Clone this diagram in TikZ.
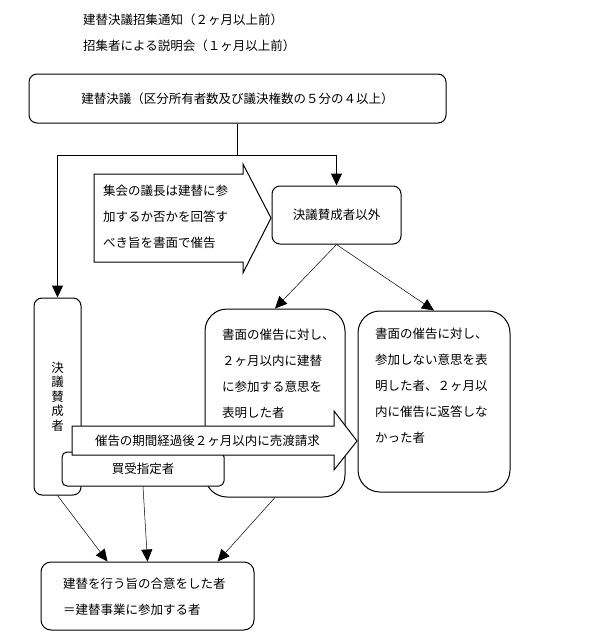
\documentclass[tikz,border=0pt]{standalone}
\usepackage{fontspec}
\newfontfamily\jp{Noto Sans CJK JP}
\usetikzlibrary{arrows.meta}

\begin{document}
\begin{tikzpicture}[x=1pt,y=-1pt,
  every node/.style={font=\jp\fontsize{12.5}{26}\selectfont},
  box/.style={draw,line width=1pt,fill=white,rounded corners=8pt,inner sep=0pt},
  txt/.style={anchor=west,align=left,inner sep=0pt},
  link/.style={line width=1pt,-{Triangle[length=12pt,width=11pt]}},
  thinlink/.style={line width=0.5pt,-{Triangle[length=12pt,width=11pt]}},
  blockarrow/.style={draw,line width=1pt,fill=white}]
\useasboundingbox(0,0) rectangle (593,633);
\node[txt] (notice) at (83,20) {建替決議招集通知（２ヶ月以上前）};
\node[txt] (briefing) at (83,46) {招集者による説明会（１ヶ月以上前）};
\node[box,minimum width=417pt,minimum height=49pt] (resolve) at (237.5,98.5) {建替決議（区分所有者数及び議決権数の５分の４以上）};
\node[box,minimum width=129pt,minimum height=58pt] (others) at (336.5,215) {決議賛成者以外};
\node[box,minimum width=47pt,minimum height=197pt,font=\jp\fontsize{12.5}{14.5}\selectfont,align=center] (favour) at (57.5,396.5) {決\\議\\賛\\成\\者};
\node[box,rounded corners=22pt,minimum width=140pt,minimum height=188pt] (join) at (275,403) {};
\node[box,rounded corners=22pt,minimum width=152pt,minimum height=181pt] (refuse) at (434,401.5) {};
\node[box,rounded corners=5pt,minimum width=162pt,minimum height=34pt] (buyer) at (143,469) {買受指定者};
\node[box,rounded corners=10pt,minimum width=213pt,minimum height=68pt] (agree) at (147.5,596) {};
\draw[blockarrow](94,174) -- (243,174) -- (243,164) -- (271,218) -- (243,273) -- (243,262) -- (94,262) -- cycle;
\draw[blockarrow](72,426) -- (334,426) -- (334,411) -- (357,441) -- (334,470) -- (334,455) -- (72,455) -- cycle;
\node[txt] (demand) at (103,217) {集会の議長は建替に参\\加するか否かを回答す\\べき旨を書面で催告};
\node (sale) at (207.5,441) {催告の期間経過後２ヶ月以内に売渡請求};
\node[txt] (jointext) at (222,374) {書面の催告に対し、\\２ヶ月以内に建替\\に参加する意思を\\表明した者};
\node[txt] (refusetext) at (375,386) {書面の催告に対し、\\参加しない意思を表\\明した者、２ヶ月以\\内に催告に返答しな\\かった者};
\node[txt] (agreetext) at (63,596.5) {建替を行う旨の合意をした者\\＝建替事業に参加する者};
\coordinate (fork) at (resolve.south |- 0,155);
\draw[line width=1pt](resolve.south) -- (fork);
\draw[link](fork) -| (others.north);
\draw[link](fork) -| (favour.north);
\draw[thinlink](others.south) -- (join.north);
\draw[thinlink](others.south) -- (refuse.north);
\draw[thinlink](favour.south) -- ([xshift=-40pt]agree.north);
\draw[thinlink](buyer.south) -- (agree.north);
\draw[thinlink](join.south) -- ([xshift=70pt]agree.north);
\end{tikzpicture}
\end{document}
